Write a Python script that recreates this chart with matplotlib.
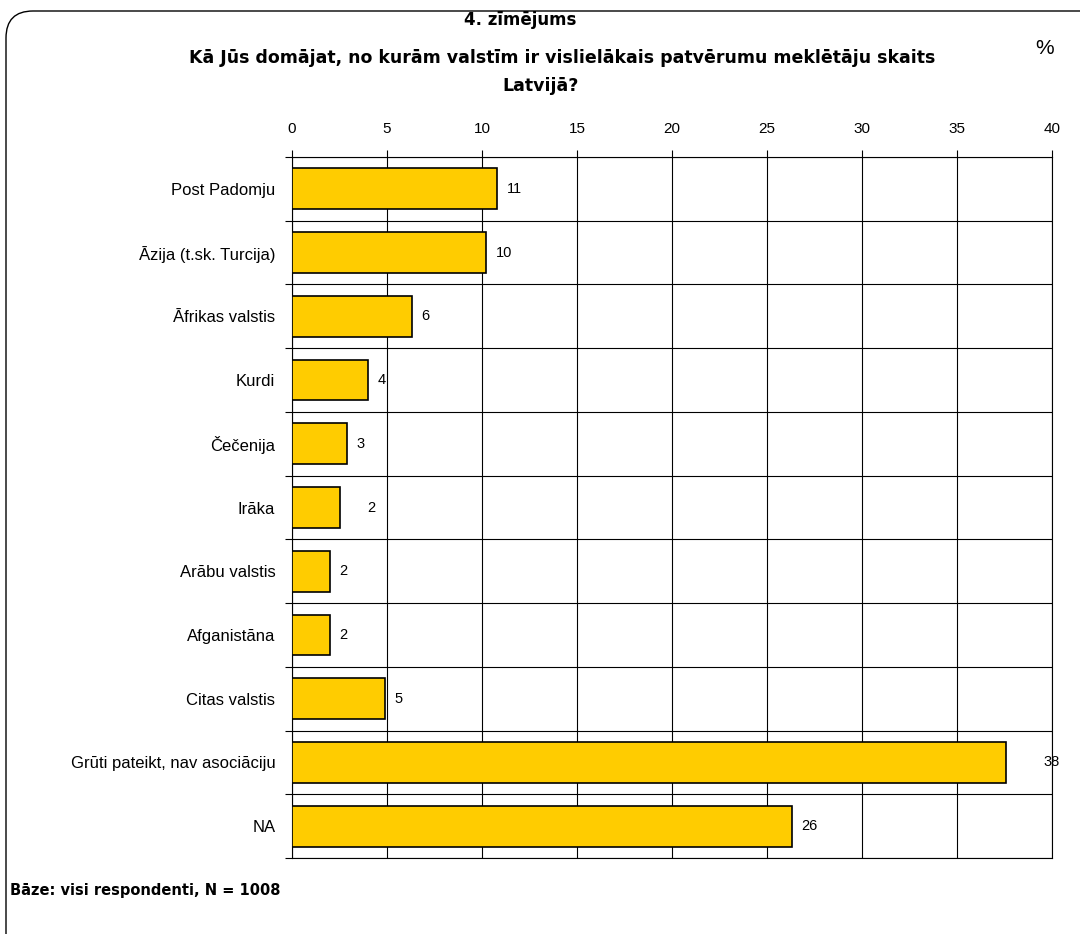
import numpy as np
import matplotlib
matplotlib.use('Agg')
import matplotlib.pyplot as plt
from matplotlib.patches import FancyBboxPatch

plt.rcParams['font.family'] = ['Liberation Sans', 'DejaVu Sans']

# data
categories = ['Post Padomju', 'Āzija (t.sk. Turcija)', 'Āfrikas valstis', 'Kurdi',
              'Čečenija', 'Irāka', 'Arābu valstis', 'Afganistāna', 'Citas valstis',
              'Grūti pateikt, nav asociāciju', 'NA']
values = [10.8, 10.2, 6.3, 4.0, 2.9, 2.5, 2.0, 2.0, 4.9, 37.6, 26.3]
labels = ['11', '10', '6', '4', '3', '2', '2', '2', '5', '38', '26']
x_ticks = [0, 5, 10, 15, 20, 25, 30, 35, 40]

# data labels moved by hand in the original (extra offset in points)
label_extra = {5: 13, 9: 20}

fig = plt.figure(figsize=(10.8, 9.34), dpi=100)

# rounded frame
frame = FancyBboxPatch((6 / 1080, -0.05), 1.1, 1 - 11 / 934 + 0.05,
                       boxstyle='round,pad=0,rounding_size=0.025',
                       transform=fig.transFigure, facecolor='none',
                       edgecolor='black', linewidth=1.0, mutation_aspect=1080 / 934)
fig.patches.append(frame)

ax = fig.add_axes([292 / 1080, 1 - 858 / 934, (1052 - 292) / 1080, (858 - 157) / 934])

y = np.arange(len(categories)) + 0.5
ax.barh(y, values, height=0.64, color='#FFCC00', edgecolor='black', linewidth=1.2, zorder=3)

for i, (v, lab) in enumerate(zip(values, labels)):
    ax.annotate(lab, (v, y[i]), xytext=(7 + label_extra.get(i, 0), 0),
                textcoords='offset points', va='center', ha='left', fontsize=10.5)

ax.set_xlim(0, 40)
ax.set_ylim(len(categories), 0)

ax.xaxis.tick_top()
ax.set_xticks(x_ticks)
ax.set_xticklabels([str(t) for t in x_ticks], fontsize=11)
ax.tick_params(axis='x', direction='out', length=5, width=0.8, pad=10)

ax.set_yticks(np.arange(len(categories) + 1))
ax.set_yticklabels([])
ax.tick_params(axis='y', which='major', direction='out', length=5, width=0.8)
ax.set_yticks(y, minor=True)
ax.set_yticklabels(categories, minor=True, fontsize=12)
ax.tick_params(axis='y', which='minor', length=0, pad=12)

ax.grid(True, which='major', color='black', linewidth=0.8, zorder=0)
ax.set_axisbelow(True)
for s in ax.spines.values():
    s.set_linewidth(0.8)

title_font = ['DejaVu Sans']
fig.text(520 / 1080, 1 - 20 / 934, '4. zīmējums', ha='center', va='center',
         fontsize=12, fontweight='bold', family=title_font)
fig.text(562 / 1080, 1 - 58 / 934, 'Kā Jūs domājat, no kurām valstīm ir vislielākais patvērumu meklētāju skaits',
         ha='center', va='center', fontsize=12.5, fontweight='bold', family=title_font)
fig.text(541 / 1080, 1 - 86 / 934, 'Latvijā?', ha='center', va='center',
         fontsize=12.5, fontweight='bold', family=title_font)
fig.text(1045 / 1080, 1 - 48 / 934, '%', ha='center', va='center', fontsize=15)
fig.text(10 / 1080, 1 - 890 / 934, 'Bāze: visi respondenti, N = 1008', ha='left', va='center',
         fontsize=10.5, fontweight='bold', family=title_font)

fig.savefig('out.png', dpi=100)
